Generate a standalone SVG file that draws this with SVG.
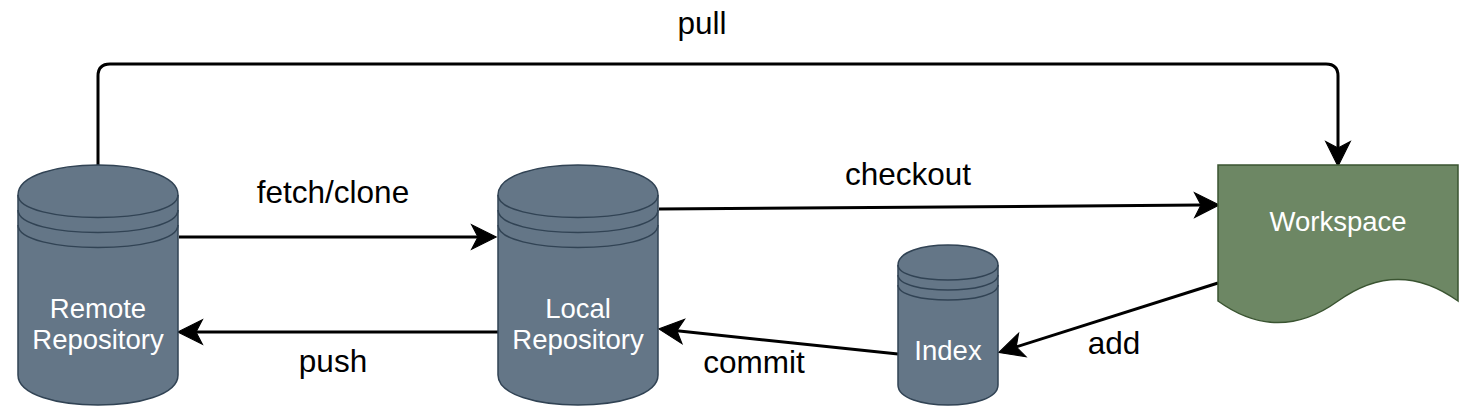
<svg xmlns="http://www.w3.org/2000/svg" width="1474" height="418" viewBox="0 0 1474 418">
  <style>
    .cyl { fill: #647687; stroke: #314354; stroke-width: 1.5; }
    .band { fill: none; stroke: #314354; stroke-width: 1.5; }
    .doc { fill: #6d8764; stroke: #3a5431; stroke-width: 1.5; }
    .ntext { font-family: "Liberation Sans", Arial, sans-serif; font-size: 27.5px; fill: #ffffff; text-anchor: middle; }
    .ltext { font-family: "Liberation Sans", Arial, sans-serif; font-size: 31.5px; fill: #000000; text-anchor: middle; }
    .edge { fill: none; stroke: #000000; stroke-width: 3; marker-end: url(#arrow); }
  </style>
  <defs>
    <marker id="arrow" markerUnits="userSpaceOnUse" markerWidth="30" markerHeight="30" viewBox="-8 -13 28 26" refX="0" refY="0" orient="auto" overflow="visible">
      <path d="M17 0 L-6 -11.5 L0 0 L-6 11.5 Z" fill="#000000" stroke="#000000" stroke-width="1" stroke-linejoin="miter"/>
    </marker>
  </defs>

  <rect width="1474" height="418" fill="#ffffff"/>

  <g id="connectors">
    <path class="edge" d="M98 165 L98 76 Q98 64 110 64 L1326 64 Q1338 64 1338 76 L1338 148"/>
    <path class="edge" d="M179 237 L478 237"/>
    <path class="edge" d="M498 332 L196 332"/>
    <path class="edge" d="M659 209 L1201 205.1"/>
    <path class="edge" d="M898 354 L676.9 330.8"/>
    <path class="edge" d="M1218 283 L1016.2 346.9"/>
    <text class="ltext" x="702" y="34">pull</text>
    <text class="ltext" x="333" y="203">fetch/clone</text>
    <text class="ltext" x="333" y="372">push</text>
    <text class="ltext" x="908" y="185">checkout</text>
    <text class="ltext" x="754" y="373">commit</text>
    <text class="ltext" x="1114" y="354">add</text>
  </g>

  <g id="remote">
    <path class="cyl" d="M18 195 C18 155 178 155 178 195 L178 375 C178 415 18 415 18 375 Z"/>
    <path class="band" d="M18 195 C18 225 178 225 178 195 M18 210 C18 240 178 240 178 210 M18 225 C18 255 178 255 178 225"/>
    <text class="ntext" x="98" y="318">Remote</text>
    <text class="ntext" x="98" y="349">Repository</text>
  </g>

  <g id="local">
    <path class="cyl" d="M498 195 C498 155 658 155 658 195 L658 375 C658 415 498 415 498 375 Z"/>
    <path class="band" d="M498 195 C498 225 658 225 658 195 M498 210 C498 240 658 240 658 210 M498 225 C498 255 658 255 658 225"/>
    <text class="ntext" x="578" y="318">Local</text>
    <text class="ntext" x="578" y="349">Repository</text>
  </g>

  <g id="index">
    <path class="cyl" d="M898 265 C898 238.33 998 238.33 998 265 L998 385 C998 411.67 898 411.67 898 385 Z"/>
    <path class="band" d="M898 265 C898 285 998 285 998 265 M898 275 C898 295 998 295 998 275 M898 285 C898 305 998 305 998 285"/>
    <text class="ntext" x="948" y="360">Index</text>
  </g>

  <g id="workspace">
    <path class="doc" d="M1218 165 L1458 165 L1458 301 Q1398 257.8 1338 301 Q1278 344.2 1218 301 Z"/>
    <text class="ntext" x="1338" y="231">Workspace</text>
  </g>
</svg>
